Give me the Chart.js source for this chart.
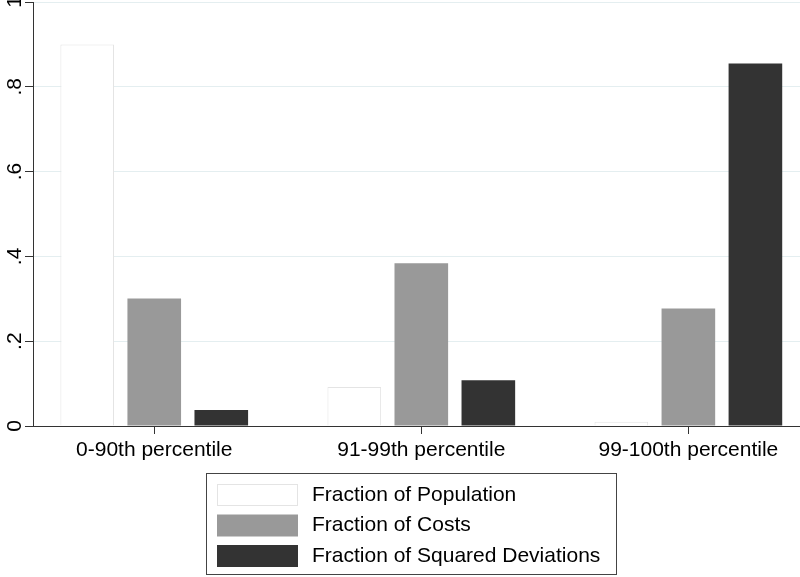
<!DOCTYPE html>
<html lang="en">

<head>
    <meta charset="UTF-8">
    <script src="https://cdn.jsdelivr.net/npm/chart.js"></script>
    <title>Fractions by percentile</title>
    <style>
        body { margin: 0; background: #fff; }
        .caixa { position: relative; width: 800px; height: 577px; }
    </style>
</head>

<body>
    <div class="caixa">
        <canvas id="myChart" width="800" height="577"></canvas>
    </div>

<script>
    // categorias e valores
    const categories = ['0-90th percentile', '91-99th percentile', '99-100th percentile']
    const population = [0.90, 0.092, 0.01]
    const costs = [0.301, 0.384, 0.277]
    const sqDeviations = [0.038, 0.108, 0.855]
    const yTicks = [0, 0.2, 0.4, 0.6, 0.8, 1]
    const seriesNames = ['Fraction of Population', 'Fraction of Costs', 'Fraction of Squared Deviations']

    const fonte = '"Liberation Sans", Arial, Helvetica, sans-serif'
    Chart.defaults.font.family = fonte
    Chart.defaults.color = '#000'

    function pontos(valores) {
        return valores.map(function (v, i) { return { x: i, y: v } })
    }

    function rotuloY(v) {
        if (v === 0) return '0'
        if (v === 1) return '1'
        return String(Math.round(v * 10) / 10).replace(/^0/, '')
    }

    // tira o espaco extra que o chart.js reserva para os rotulos
    function semPadding(scale) {
        scale.paddingTop = 0
        scale.paddingBottom = 0
        scale.paddingLeft = 0
        scale.paddingRight = 0
    }

    // legenda em coluna, dentro de uma caixa, como no original
    const legendaCaixa = {
        id: 'legendaCaixa',
        afterDraw(chart) {
            const ctx = chart.ctx
            ctx.save()
            ctx.strokeStyle = '#444'
            ctx.lineWidth = 1
            ctx.strokeRect(206.5, 473.5, 410, 101)
            ctx.font = '21px ' + fonte
            ctx.textBaseline = 'middle'
            ctx.textAlign = 'left'
            chart.data.datasets.forEach(function (ds, i) {
                const top = 484 + i * 30.5
                ctx.fillStyle = ds.backgroundColor
                ctx.fillRect(217, top, 81, 22)
                if (ds.borderWidth) {
                    ctx.strokeStyle = ds.borderColor
                    ctx.strokeRect(217.5, top + 0.5, 80, 21)
                }
                ctx.fillStyle = '#000'
                ctx.fillText(ds.label, 312, top + 11)
            })
            ctx.restore()
        }
    }

    const data = {
        datasets: [{
            label: seriesNames[0],
            data: pontos(population),
            backgroundColor: '#ffffff',
            borderColor: '#e4e4e4',
            borderWidth: 1
        }, {
            label: seriesNames[1],
            data: pontos(costs),
            backgroundColor: '#999999',
            borderWidth: 0
        }, {
            label: seriesNames[2],
            data: pontos(sqDeviations),
            backgroundColor: '#333333',
            borderWidth: 0
        }]
    }

    const config = {
        type: 'bar',
        data: data,
        plugins: [legendaCaixa],
        options: {
            responsive: false,
            animation: false,
            categoryPercentage: 0.753,
            barPercentage: 0.8,
            layout: {
                autoPadding: false,
                padding: { top: 2, right: 0, bottom: 0, left: 0 }
            },
            plugins: {
                legend: { display: false },
                tooltip: { enabled: false }
            },
            scales: {
                x: {
                    type: 'linear',
                    offset: false,
                    min: -0.454,
                    max: 2.418,
                    afterBuildTicks: function (scale) {
                        scale.ticks = categories.map(function (c, i) { return { value: i } })
                    },
                    afterFit: function (scale) {
                        scale.height = 151
                        semPadding(scale)
                    },
                    ticks: {
                        font: { size: 21 },
                        color: '#000',
                        padding: 4,
                        maxRotation: 0,
                        autoSkip: false,
                        callback: function (v) { return categories[v] }
                    },
                    grid: {
                        offset: false,
                        drawOnChartArea: false,
                        drawTicks: true,
                        tickLength: 8,
                        tickColor: '#333'
                    },
                    border: { display: true, color: '#333', width: 1 }
                },
                y: {
                    min: 0,
                    max: 1,
                    afterBuildTicks: function (scale) {
                        scale.ticks = yTicks.map(function (v) { return { value: v } })
                    },
                    afterFit: function (scale) {
                        scale.width = 33
                        semPadding(scale)
                    },
                    ticks: {
                        font: { size: 21 },
                        color: '#000',
                        padding: 1,
                        minRotation: 90,
                        maxRotation: 90,
                        crossAlign: 'center',
                        callback: rotuloY
                    },
                    grid: {
                        color: '#e4eef0',
                        drawTicks: true,
                        tickLength: 8,
                        tickColor: '#333'
                    },
                    border: { display: true, color: '#333', width: 1 }
                }
            }
        }
    }

    var myChart = new Chart(document.getElementById('myChart'), config)
</script>
</body>

</html>
